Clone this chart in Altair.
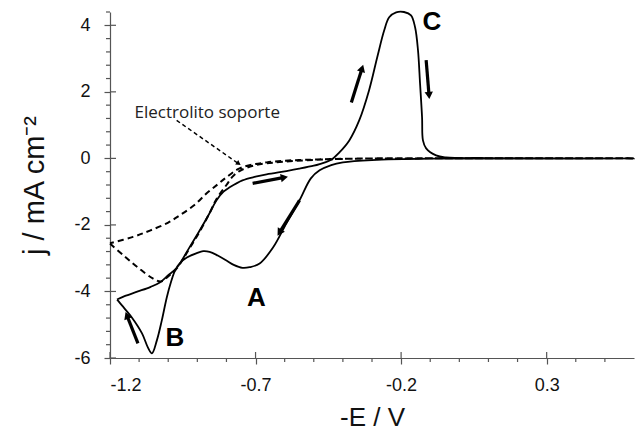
import math
import altair as alt
import pandas as pd

# ---------------- data ----------------
# Solid CV loop: left turning point -> anodic sweep to the right -> back (cathodic)
cv_x = [-1.176, -1.15, -1.104, -1.06, -1.029, -1.001, -0.97, -0.93, -0.892, -0.86,
        -0.834, -0.81, -0.789, -0.745, -0.70, -0.662, -0.594, -0.55, -0.50, -0.48,
        -0.44, -0.412, -0.378, -0.344, -0.31, -0.282, -0.258, -0.241, -0.217, -0.19,
        -0.166, -0.152, -0.142, -0.135, -0.128, -0.125, -0.114, -0.08, -0.046, 0.1, 0.6,
        0.3, -0.1, -0.30, -0.40, -0.44, -0.48, -0.51, -0.549, -0.594, -0.64, -0.686,
        -0.72, -0.745, -0.775, -0.80, -0.83, -0.858, -0.88, -0.902, -0.936, -0.96,
        -0.977, -0.99, -1.005, -1.022, -1.039, -1.056, -1.07, -1.09, -1.125, -1.159, -1.176]
cv_y = [-4.24, -4.14, -4.00, -3.86, -3.73, -3.52, -3.28, -2.72, -2.17, -1.68,
        -1.26, -1.00, -0.87, -0.66, -0.55, -0.48, -0.38, -0.31, -0.22, -0.17,
        -0.04, 0.18, 0.54, 1.14, 2.05, 3.04, 3.85, 4.24, 4.39, 4.40,
        4.30, 3.94, 3.25, 2.26, 1.23, 0.54, 0.30, 0.09, 0.03, 0.01, 0.0,
        -0.01, -0.01, -0.05, -0.12, -0.20, -0.36, -0.60, -1.26, -1.95, -2.68, -3.16,
        -3.27, -3.29, -3.20, -3.07, -2.92, -2.81, -2.79, -2.85, -2.98, -3.15,
        -3.38, -3.70, -4.18, -4.87, -5.47, -5.86, -5.68, -5.26, -4.78, -4.42, -4.24]

# Supporting electrolyte (dashed loop)
el_x = [-1.2, -1.149, -1.104, -1.053, -1.025, -1.0, -0.97, -0.93, -0.892, -0.86,
        -0.834, -0.80, -0.779, -0.755, -0.70, -0.60, -0.45, -0.30, 0.6,
        0.6, -0.14, -0.48, -0.662, -0.755, -0.80, -0.83, -0.868, -0.91, -0.96,
        -1.0, -1.063, -1.121, -1.2]
el_y = [-2.56, -2.95, -3.28, -3.61, -3.70, -3.55, -3.30, -2.75, -2.20, -1.68,
        -1.22, -0.80, -0.55, -0.38, -0.20, -0.10, -0.03, 0.0, 0.0,
        0.0, 0.0, -0.03, -0.12, -0.30, -0.57, -0.78, -1.05, -1.40, -1.71,
        -1.93, -2.17, -2.36, -2.55]

# Direction arrows (start -> end)
arr_x1 = [-0.371, -0.114, -0.710, -0.549, -1.104]
arr_y1 = [1.68, 2.95, -0.75, -1.26, -5.56]
arr_x2 = [-0.334, -0.104, -0.601, -0.618, -1.142]
arr_y2 = [2.71, 1.89, -0.57, -2.23, -4.72]

# Annotation
ann_text = ["Electrolito soporte"]
ann_tx, ann_ty = [-0.866], [1.35]
ann_x1, ann_y1 = [-0.971], [1.14]
ann_x2, ann_y2 = [-0.758], [-0.16]

# Peak labels
lab_text = ["A", "B", "C"]
lab_x = [-0.697, -0.977, -0.094]
lab_y = [-4.21, -5.41, 4.09]

x_major = [-1.2, -0.7, -0.2, 0.3]
y_major = [-6, -4, -2, 0, 2, 4]
x_minor = [round(-1.2 + 0.1 * i, 2) for i in range(1, 18) if i % 5 != 0]
y_minor = [round(-6 + 0.4 * i, 2) for i in range(1, 27) if i % 5 != 0]

X_DOM = [-1.2, 0.6]
Y_DOM = [-6, 4.4]
W, H = 524, 346

# ---------------- frames ----------------
cv = pd.DataFrame({"x": cv_x, "y": cv_y, "o": range(len(cv_x))})
el = pd.DataFrame({"x": el_x, "y": el_y, "o": range(len(el_x))})


def heading(x1, y1, x2, y2):
    dx = (x2 - x1) * W / (X_DOM[1] - X_DOM[0])
    dy = (y2 - y1) * H / (Y_DOM[1] - Y_DOM[0])
    return math.degrees(math.atan2(dx, dy)) % 360


arr = pd.DataFrame({"x": arr_x1, "y": arr_y1, "x2": arr_x2, "y2": arr_y2})
arr["ang"] = [heading(a, b, c, d) for a, b, c, d in zip(arr_x1, arr_y1, arr_x2, arr_y2)]
ann = pd.DataFrame({"x": ann_x1, "y": ann_y1, "x2": ann_x2, "y2": ann_y2})
ann["ang"] = [heading(a, b, c, d) for a, b, c, d in zip(ann_x1, ann_y1, ann_x2, ann_y2)]
ann_lbl = pd.DataFrame({"x": ann_tx, "y": ann_ty, "t": ann_text})
labs = pd.DataFrame({"x": lab_x, "y": lab_y, "t": lab_text})

xs = alt.Scale(domain=X_DOM, nice=False, zero=False)
ys = alt.Scale(domain=Y_DOM, nice=False, zero=False)

axis_common = dict(domainColor="#555555", domainWidth=1.2, tickColor="#555555",
                   tickWidth=1.2, tickSize=6, labelFont="Liberation Sans",
                   labelFontSize=18, labelColor="#111111", grid=False,
                   titleFont="Liberation Sans", titleFontWeight="normal",
                   titleColor="#111111", labelExpr="toString(datum.value)")

X = alt.X("x:Q", scale=xs, axis=alt.Axis(values=x_major, title="-E / V",
                                          titleFontSize=26, labelPadding=12,
                                          titlePadding=10, **axis_common))
Y = alt.Y("y:Q", scale=ys, axis=alt.Axis(values=y_major, title="j / mA cm⁻²",
                                          titleFontSize=29, labelPadding=14,
                                          titlePadding=24, **axis_common))

solid = alt.Chart(cv).mark_line(color="black", strokeWidth=1.8,
                                interpolate="catmull-rom").encode(
    x=X, y=Y, order="o:Q")
dashed = alt.Chart(el).mark_line(color="black", strokeWidth=2, strokeDash=[6, 4],
                                 interpolate="catmull-rom").encode(
    x="x:Q", y="y:Q", order="o:Q")

arr_shaft = alt.Chart(arr).mark_rule(color="black", strokeWidth=3.2).encode(
    x="x:Q", y="y:Q", x2="x2:Q", y2="y2:Q")
arr_head = alt.Chart(arr).mark_point(shape="triangle-up", filled=True, color="black",
                                     size=70, opacity=1).encode(
    x="x2:Q", y="y2:Q", angle=alt.Angle("ang:Q", scale=None))

ann_shaft = alt.Chart(ann).mark_rule(color="black", strokeWidth=1.5, strokeDash=[4, 3]).encode(
    x="x:Q", y="y:Q", x2="x2:Q", y2="y2:Q")
ann_head = alt.Chart(ann).mark_point(shape="triangle-up", filled=True, color="black",
                                     size=30, opacity=1).encode(
    x="x2:Q", y="y2:Q", angle=alt.Angle("ang:Q", scale=None))
ann_txt = alt.Chart(ann_lbl).mark_text(font="Open Sans", fontSize=17, color="#222222",
                                       align="center", baseline="middle").encode(
    x="x:Q", y="y:Q", text="t:N")

lab_mark = alt.Chart(labs).mark_text(font="Liberation Sans", fontSize=26, fontWeight="bold",
                                     color="black", align="center", baseline="middle").encode(
    x="x:Q", y="y:Q", text="t:N")

# tick decorations
xin = alt.Chart(pd.DataFrame({"v": x_major})).mark_rule(color="#555555", strokeWidth=1.2).encode(
    x="v:Q", y=alt.value(H - 6), y2=alt.value(H))
xmin = alt.Chart(pd.DataFrame({"v": x_minor})).mark_rule(color="#555555", strokeWidth=1.2).encode(
    x="v:Q", y=alt.value(H), y2=alt.value(H + 4))
yin = alt.Chart(pd.DataFrame({"v": y_major})).mark_rule(color="#555555", strokeWidth=1.2).encode(
    y="v:Q", x=alt.value(0), x2=alt.value(6))
ymin = alt.Chart(pd.DataFrame({"v": y_minor})).mark_rule(color="#555555", strokeWidth=1.2).encode(
    y="v:Q", x=alt.value(-4), x2=alt.value(0))

chart = alt.layer(solid, dashed, xin, xmin, yin, ymin, arr_shaft, arr_head,
                  ann_shaft, ann_head, ann_txt, lab_mark).properties(
    width=W, height=H,
    autosize=alt.AutoSizeParams(type="none"),
    padding={"left": 110, "top": 12, "right": 5, "bottom": 76},
    background="white",
).configure_view(stroke=None)

chart.save("out.html", embed_options={"renderer": "svg", "actions": False})
